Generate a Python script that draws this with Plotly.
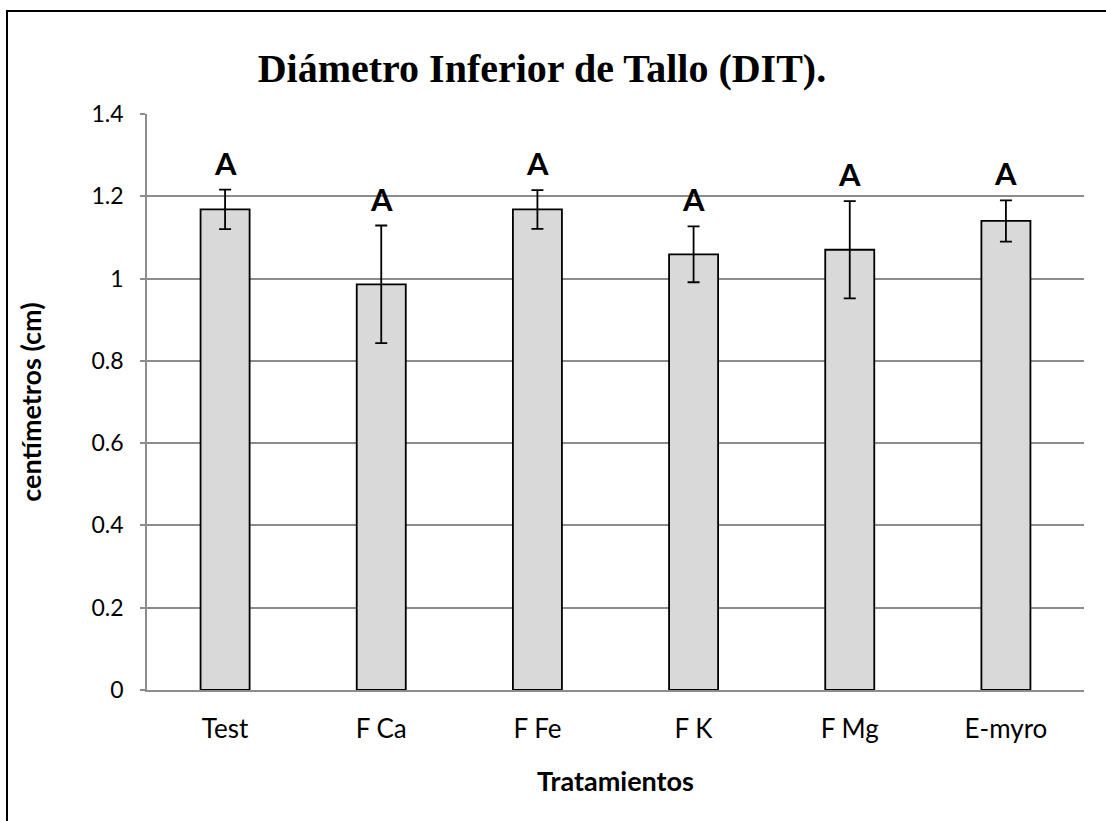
import plotly.graph_objects as go

categories = ["Test", "F Ca", "F Fe", "F K", "F Mg", "E-myro"]
means = [1.168, 0.986, 1.168, 1.059, 1.070, 1.140]
errors = [0.048, 0.143, 0.047, 0.068, 0.118, 0.050]
letters = ["A", "A", "A", "A", "A", "A"]
y_ticks = [0, 0.2, 0.4, 0.6, 0.8, 1, 1.2, 1.4]
y_tick_text = ["0", "0.2", "0.4", "0.6", "0.8", "1", "1.2", "1.4"]

FONT = "Lato, 'Open Sans', sans-serif"

fig = go.Figure()
fig.add_trace(go.Bar(
    x=categories, y=means,
    marker=dict(color="#d9d9d9", line=dict(color="black", width=1.8)),
    error_y=dict(type="data", array=errors, visible=True, color="black", thickness=1.8, width=6),
    width=0.314,
    showlegend=False,
))

for c, m, e, l in zip(categories, means, errors, letters):
    fig.add_annotation(x=c, y=m + e, text="<b>%s</b>" % l, showarrow=False,
                       yanchor="middle", yshift=27,
                       font=dict(family=FONT, size=31, color="black"))

L, R, T, B = 147, 22, 114, 131
W, H = 1106, 821
pw = W - L - R
ph = H - T - B

fig.add_shape(type="rect", xref="paper", yref="paper",
              x0=(7 - L) / pw, x1=(W + 10 - L) / pw,
              y0=(H - B - (H + 10)) / ph, y1=(H - B - 11) / ph,
              line=dict(color="black", width=2), fillcolor="rgba(0,0,0,0)", layer="below")

fig.update_layout(
    width=W, height=H,
    margin=dict(l=L, r=R, t=T, b=B),
    paper_bgcolor="white", plot_bgcolor="white",
    title=dict(text="<b>Diámetro Inferior de Tallo (DIT).</b>",
               font=dict(family="'Liberation Serif', 'Times New Roman', serif", size=40, color="black"),
               x=0.49, xanchor="center", y=1 - 68 / H, yanchor="middle"),
    font=dict(family=FONT, color="black"),
    xaxis=dict(
        showline=True, linecolor="#8c8c8c", linewidth=1.5,
        ticks="", tickfont=dict(family=FONT, size=26, color="black"),
        ticklabelstandoff=15,
        title=dict(text="<b>Tratamientos</b>", font=dict(family=FONT, size=27, color="black"), standoff=29),
    ),
    yaxis=dict(
        range=[0, 1.4], tickvals=y_ticks, ticktext=y_tick_text,
        showgrid=True, gridcolor="#8c8c8c", gridwidth=1.5,
        showline=True, linecolor="#8c8c8c", linewidth=1.5,
        ticks="outside", ticklen=5, tickcolor="#8c8c8c", tickwidth=1.5,
        tickfont=dict(family=FONT, size=23, color="black"),
        ticklabelstandoff=12,
        zeroline=False,
        title=dict(text="<b>centímetros (cm)</b>", font=dict(family=FONT, size=27, color="black"), standoff=42),
    ),
)

fig.write_html("out.html", config={"displayModeBar": False},
               post_script="document.body.style.margin='0px';")
